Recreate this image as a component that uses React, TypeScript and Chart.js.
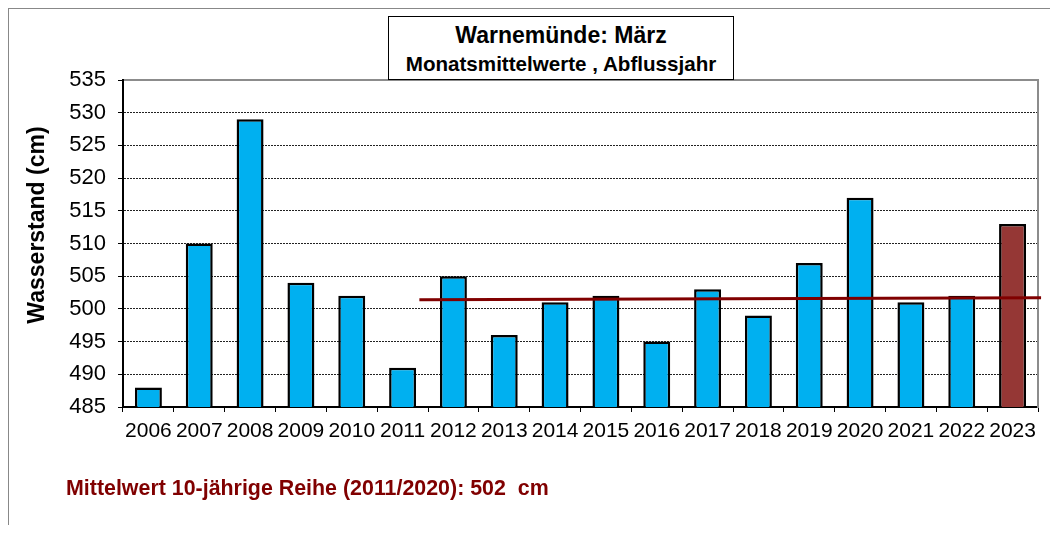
import React, { useEffect, useRef } from "react";
import { Chart, registerables } from "chart.js";

Chart.register(...registerables);

const years = ["2006","2007","2008","2009","2010","2011","2012","2013","2014","2015","2016","2017","2018","2019","2020","2021","2022","2023"];
const values = [488, 510, 529, 504, 502, 491, 505, 496, 501, 502, 495, 503, 499, 507, 517, 501, 502, 513];
const barColors = ["#00B0F0","#00B0F0","#00B0F0","#00B0F0","#00B0F0","#00B0F0","#00B0F0","#00B0F0","#00B0F0","#00B0F0","#00B0F0","#00B0F0","#00B0F0","#00B0F0","#00B0F0","#00B0F0","#00B0F0","#953735"];
const meanLineX = [5.33, 17.56];
const meanLineY = [501.4, 501.7];
const yTicks = { min: 485, max: 535, step: 5 };
const titleLine1 = "Warnemünde: März";
const titleLine2 = "Monatsmittelwerte , Abflussjahr";
const yTitle = "Wasserstand (cm)";
const note = "Mittelwert 10-jährige Reihe (2011/2020): 502  cm";

const FONT = "'Liberation Sans', Arial, sans-serif";

export default function App() {
  const ref = useRef<HTMLCanvasElement | null>(null);

  useEffect(() => {
    if (!ref.current) return;
    Chart.defaults.font.family = FONT;
    const chart = new Chart(ref.current, {
      type: "bar",
      data: {
        labels: years,
        datasets: [
          {
            type: "bar",
            data: values,
            backgroundColor: barColors,
            borderColor: "#000",
            borderWidth: 2.5,
            barPercentage: 0.53,
            categoryPercentage: 1,
            grouped: false,
            xAxisID: "x",
            yAxisID: "y",
            order: 2,
          } as any,
          {
            type: "line",
            data: meanLineX.map((x, i) => ({ x, y: meanLineY[i] })),
            borderColor: "#800000",
            borderWidth: 3,
            pointRadius: 0,
            fill: false,
            clip: false,
            xAxisID: "xLine",
            yAxisID: "y",
            order: 1,
          } as any,
        ],
      },
      options: {
        animation: false,
        responsive: true,
        maintainAspectRatio: false,
        layout: { padding: { left: 0, right: 12, top: 71, bottom: 0 } },
        plugins: { legend: { display: false }, tooltip: { enabled: false }, title: { display: false } },
        scales: {
          x: {
            type: "category",
            position: "bottom",
            offset: true,
            grid: { display: true, offset: true, drawOnChartArea: false, drawTicks: true, tickLength: 5, tickColor: "#000", tickWidth: 1 },
            border: { display: true, color: "#000", width: 2 },
            ticks: { color: "#000", font: { size: 21, family: FONT }, padding: 7, autoSkip: false, maxRotation: 0 },
            afterFit: (s: any) => { s.height = 118; },
          },
          xTop: {
            type: "category",
            position: "top",
            labels: years,
            grid: { display: false, drawTicks: false },
            ticks: { display: false },
            border: { display: true, color: "#8c8c8c", width: 2 },
            afterFit: (s: any) => { s.height = 0; },
          },
          xLine: {
            type: "linear",
            display: false,
            offset: false,
            grid: { offset: false },
            min: -0.5,
            max: 17.5,
          },
          y: {
            type: "linear",
            position: "left",
            min: yTicks.min,
            max: yTicks.max,
            grid: {
              display: true,
              drawOnChartArea: true,
              drawTicks: true,
              tickLength: 5,
              tickColor: "#000",
              tickWidth: 1,
              lineWidth: 1,
              color: (c: any) => (c.tick && (c.tick.value === yTicks.max || c.tick.value === yTicks.min) ? "rgba(0,0,0,0)" : "#222"),
            },
            border: { display: true, color: "#000", width: 2, dash: [2, 1] },
            ticks: { stepSize: yTicks.step, color: "#000", font: { size: 22, family: FONT }, padding: 12 },
            afterFit: (s: any) => { s.width = 114; },
          },
          yRight: {
            type: "linear",
            position: "right",
            min: yTicks.min,
            max: yTicks.max,
            grid: { display: false, drawTicks: false },
            ticks: { display: false },
            border: { display: true, color: "#8c8c8c", width: 2 },
            afterFit: (s: any) => { s.width = 0; },
          },
        },
      } as any,
    });
    return () => chart.destroy();
  }, []);

  return (
    <div style={{ position: "relative", width: 1041, height: 516, borderLeft: "1px solid #888", borderTop: "1px solid #888", fontFamily: FONT, background: "#fff" }}>
      <div style={{ position: "absolute", left: 0, top: 0, width: 1041, height: 516 }}>
        <canvas ref={ref} />
      </div>
      <div style={{ position: "absolute", left: 379, top: 7, width: 344, height: 62, border: "1px solid #000", background: "#fff", zIndex: 2 }}>
        <div style={{ position: "absolute", left: 0, right: 0, top: 7, textAlign: "center", fontWeight: "bold", fontSize: 23, lineHeight: "23px", color: "#000", whiteSpace: "nowrap" }}>{titleLine1}</div>
        <div style={{ position: "absolute", left: 0, right: 0, top: 36, textAlign: "center", fontWeight: "bold", fontSize: 20.6, lineHeight: "21px", color: "#000", whiteSpace: "nowrap" }}>{titleLine2}</div>
      </div>
      <div style={{ position: "absolute", left: -123, top: 201, width: 300, height: 30, lineHeight: "30px", textAlign: "center", transform: "rotate(-90deg)", fontWeight: "bold", fontSize: 23, color: "#000", whiteSpace: "nowrap" }}>{yTitle}</div>
      <div style={{ position: "absolute", left: 57, top: 469, fontWeight: "bold", fontSize: 21.4, lineHeight: "21px", color: "#800000", whiteSpace: "pre" }}>{note}</div>
    </div>
  );
}
